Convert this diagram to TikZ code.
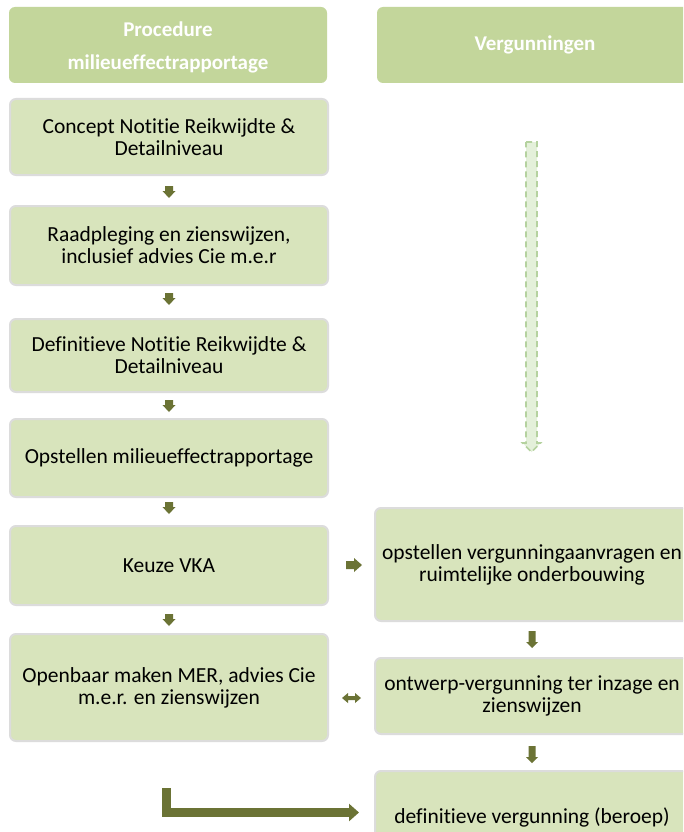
\documentclass[tikz,border=0pt]{standalone}
\usepackage{fontspec}
\setmainfont{Carlito}[Ligatures=NoCommon]
\usetikzlibrary{arrows.meta,calc}
\definecolor{hdr}{HTML}{C3D69B}
\definecolor{boxfill}{HTML}{D8E4BC}
\definecolor{boxline}{HTML}{DCDCDC}
\definecolor{arr}{HTML}{6B7335}
\definecolor{dashfill}{HTML}{E4F0DA}
\definecolor{dashline}{HTML}{B5D29F}
\begin{document}
\begin{tikzpicture}[x=1pt,y=-1pt,
  hdrbox/.style={rectangle, rounded corners=6pt, fill=hdr, inner sep=0pt, text=white,
    font=\fontsize{21}{33}\selectfont\bfseries, align=center, minimum height=76pt},
  stepbox/.style={rectangle, rounded corners=6pt, fill=boxfill, draw=boxline, line width=2pt,
    inner sep=0pt, align=center, font=\fontsize{21.5}{22}\selectfont},
  leftbox/.style={stepbox, minimum width=318pt},
  rightbox/.style={stepbox, minimum width=314pt},
  % #1 shaft half width, #2 head half width, #3 head length, #4 total length
  pics/downarr/.style n args={4}{code={
    \path[pic actions] ({-#1},{-#4/2}) -- ({#1},{-#4/2}) -- ({#1},{#4/2-#3}) -- ({#2},{#4/2-#3})
      -- (0,{#4/2}) -- ({-#2},{#4/2-#3}) -- ({-#1},{#4/2-#3}) -- cycle;}},
  pics/rightarr/.style n args={4}{code={
    \path[pic actions] ({-#4/2},{-#1}) -- ({#4/2-#3},{-#1}) -- ({#4/2-#3},{-#2}) -- ({#4/2},0)
      -- ({#4/2-#3},{#2}) -- ({#4/2-#3},{#1}) -- ({-#4/2},{#1}) -- cycle;}},
  pics/dblarr/.style n args={4}{code={
    \path[pic actions] ({-#4/2},0) -- ({-#4/2+#3},{-#2}) -- ({-#4/2+#3},{-#1}) -- ({#4/2-#3},{-#1})
      -- ({#4/2-#3},{-#2}) -- ({#4/2},0) -- ({#4/2-#3},{#2}) -- ({#4/2-#3},{#1})
      -- ({-#4/2+#3},{#1}) -- ({-#4/2+#3},{#2}) -- cycle;}},
  solidarr/.style={fill=arr},
  dasharr/.style={fill=dashfill, draw=dashline, line width=1.6pt, dash pattern=on 6pt off 4pt},
  bigarr/.style={draw=arr, line width=9pt, line join=miter, -{Triangle[length=10pt,width=17pt]}}
]
\useasboundingbox (0,0) rectangle (683,832);
\clip (0,0) rectangle (683,832);
\fill[white] (0,0) rectangle (683,832);

% headers
\node[hdrbox, minimum width=318pt] (h1) at (168,45) {};
\node[text=white, font=\fontsize{21}{33}\selectfont\bfseries, align=center, inner sep=0pt] (h1t) at (168,47) {Procedure\\milieueffectrapportage};
\node[hdrbox, minimum width=316pt] (h2) at (535,45) {Vergunningen};

% left column
\node[leftbox, minimum height=76pt] (b1) at (169,137) {Concept Notitie Reikwijdte \&\\Detailniveau};
\node[leftbox, minimum height=79pt] (b2) at (169,245.5) {Raadpleging en zienswijzen,\\inclusief advies Cie m.e.r};
\node[leftbox, minimum height=73pt] (b3) at (169,355.5) {Definitieve Notitie Reikwijdte \&\\Detailniveau};
\node[leftbox, minimum height=78pt] (b4) at (169,458) {Opstellen milieueffectrapportage};
\node[leftbox, minimum height=79pt] (b5) at (169,565.5) {Keuze VKA};
\node[leftbox, minimum height=107pt] (b6) at (169,687.5) {Openbaar maken MER, advies Cie\\m.e.r. en zienswijzen};

% right column
\node[rightbox, minimum height=113pt] (r1) at (532,564.5) {opstellen vergunningaanvragen en\\ruimtelijke onderbouwing};
\node[rightbox, minimum height=76pt] (r2) at (532,696) {ontwerp-vergunning ter inzage en\\zienswijzen};
\node[rightbox, minimum height=92pt] (r3) at (532,817) {definitieve vergunning (beroep)};

% left column arrows
\pic[solidarr] (a1) at (169,192) {downarr={4}{6.5}{7}{12}};
\pic[solidarr] (a2) at (169,299) {downarr={4}{6.5}{7}{12}};
\pic[solidarr] (a3) at (169,406) {downarr={4}{6.5}{7}{12}};
\pic[solidarr] (a4) at (169,508) {downarr={4}{6.5}{7}{12}};
\pic[solidarr] (a5) at (169,620) {downarr={4}{6.5}{7}{12}};

% right column arrows
\pic[solidarr] (ra1) at ($(r1.south)!0.5!(r2.north)$) {downarr={3.5}{6}{6}{17}};
\pic[solidarr] (ra2) at ($(r2.south)!0.5!(r3.north)+(0,2)$) {downarr={3.5}{6}{6}{17}};

% cross arrows
\pic[solidarr] (ka) at (354,565) {rightarr={4}{7}{8}{16}};
\pic[solidarr] (da) at (351.5,698) {dblarr={2}{5}{6}{19}};

% dashed arrow
\pic[dasharr] (dash) at (531.5,297) {downarr={5.5}{9}{9}{310}};

% L arrow
\coordinate (lstart) at (166.5,788);
\coordinate (lend) at ($(r3.west |- 0,812.5)+(-15,0)$);
\draw[bigarr] (lstart) |- (lend);
\end{tikzpicture}
\end{document}
